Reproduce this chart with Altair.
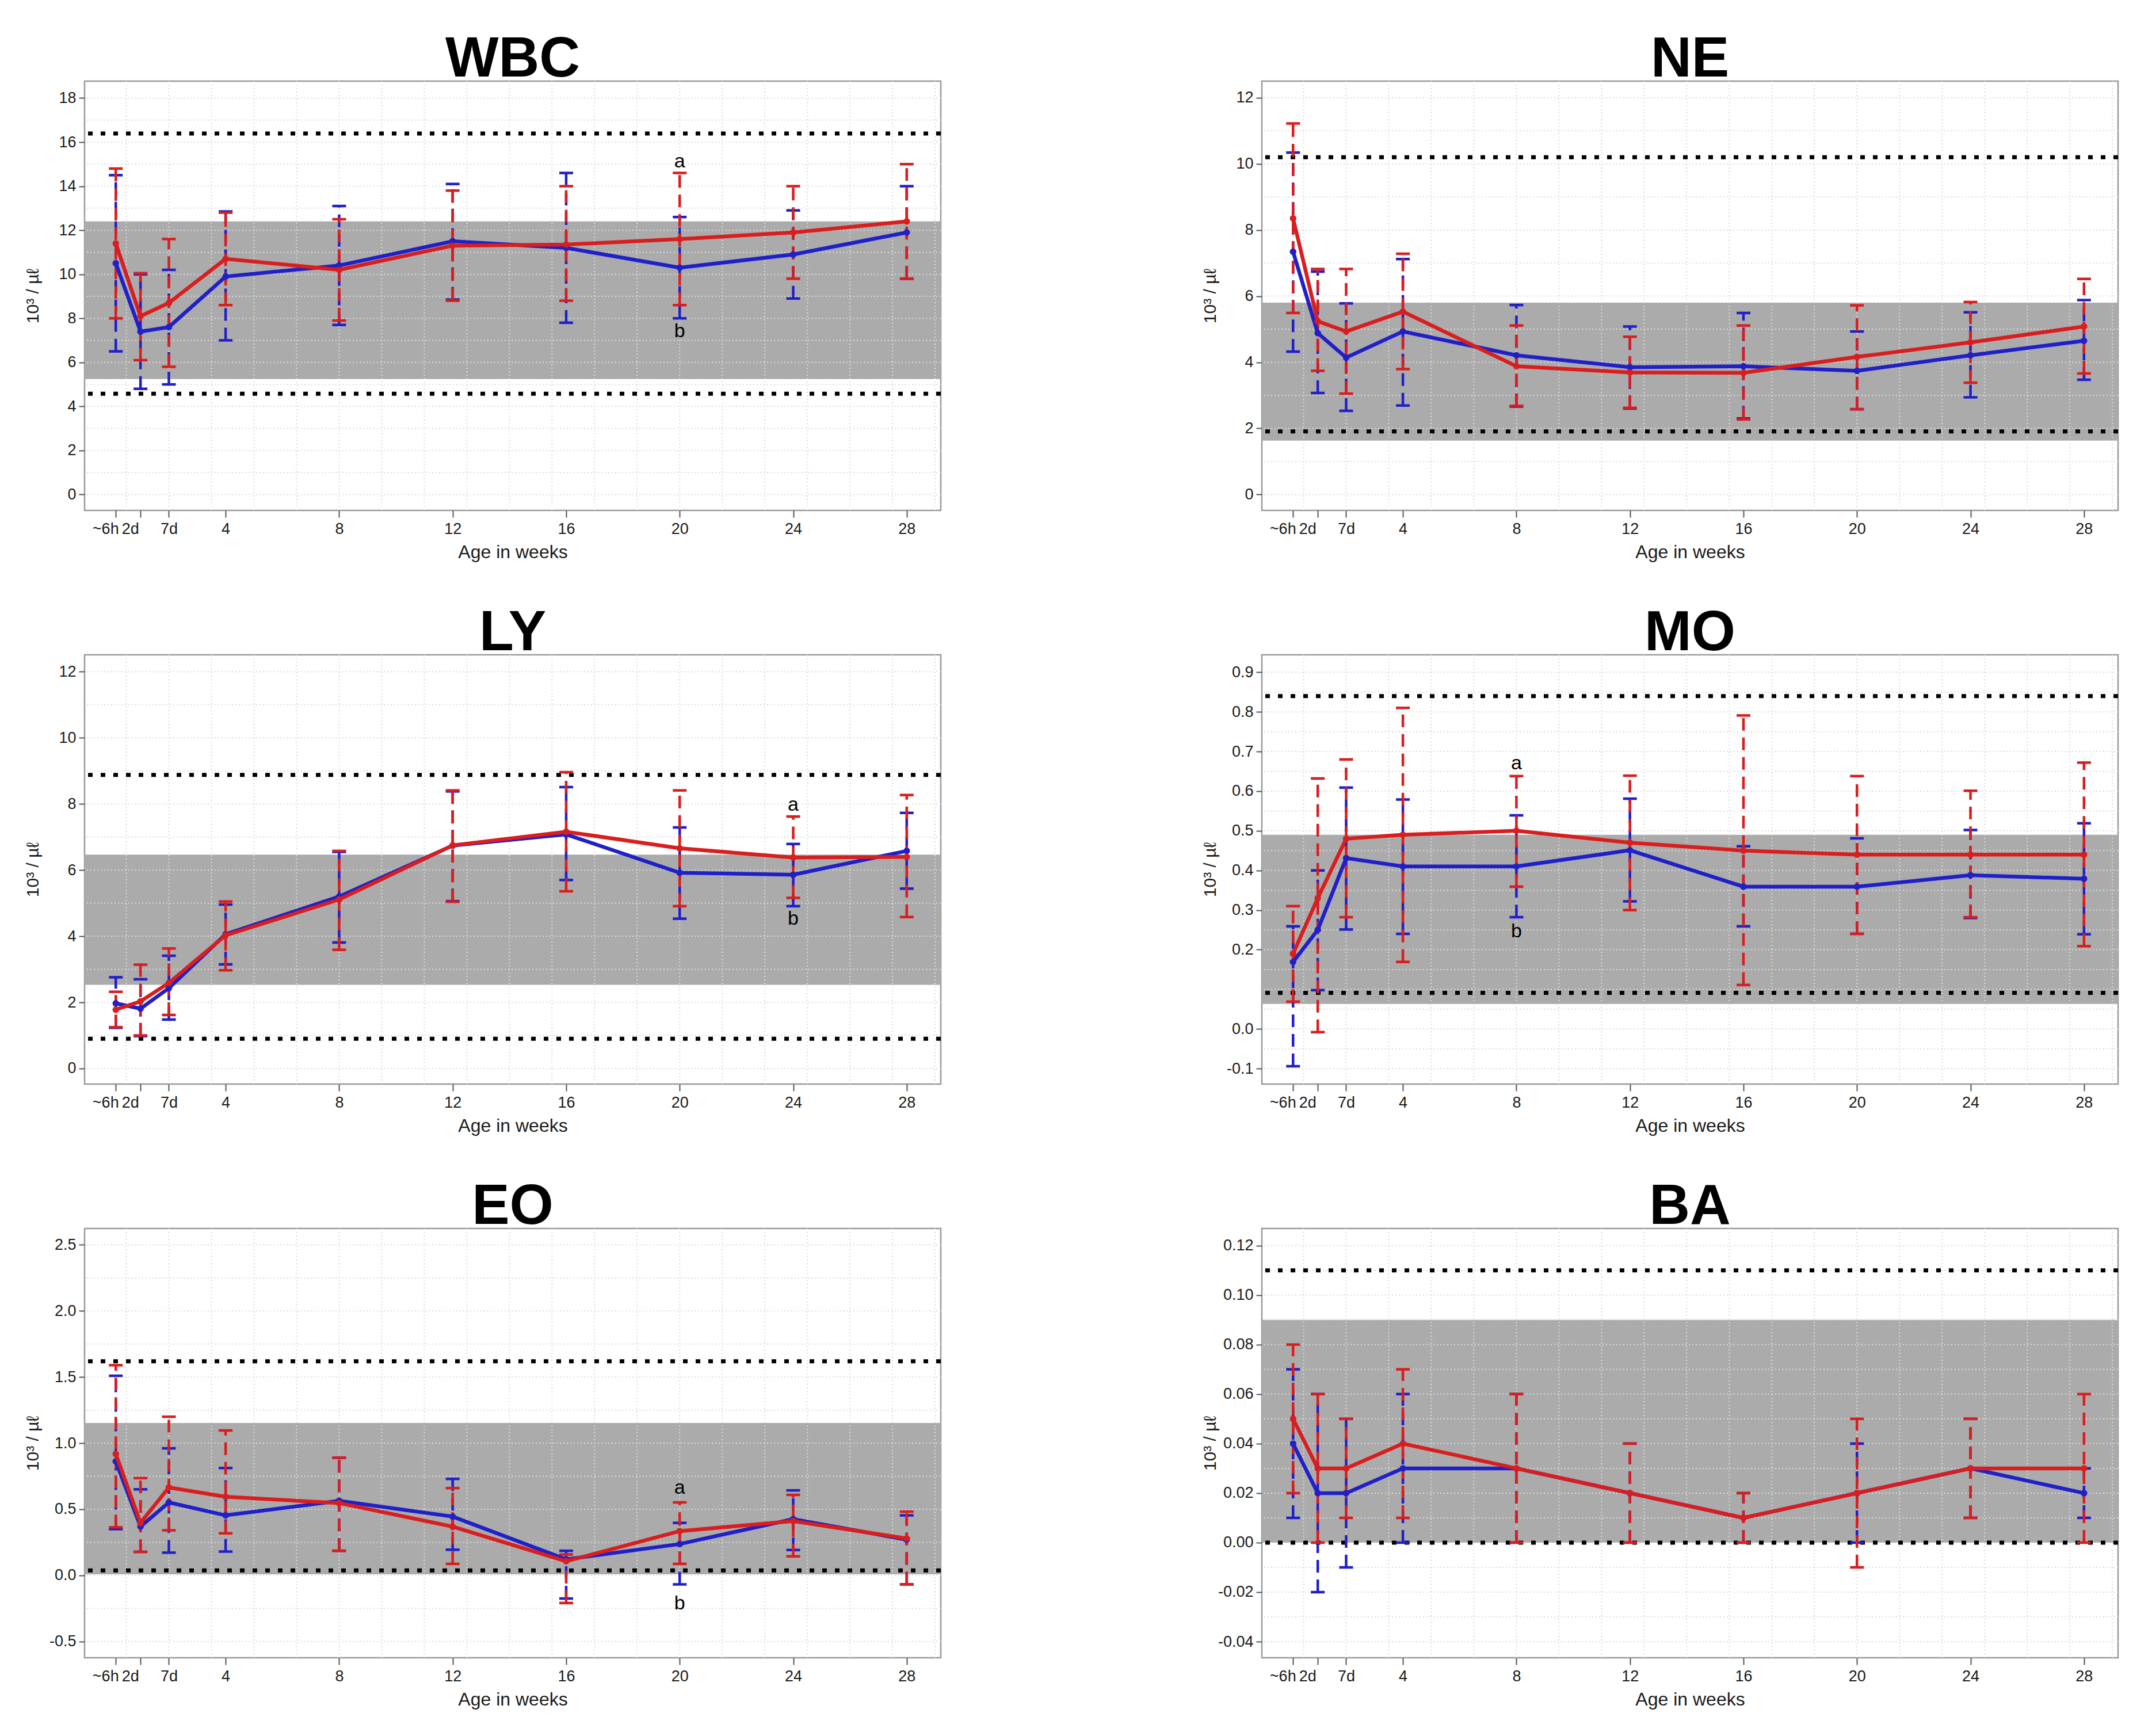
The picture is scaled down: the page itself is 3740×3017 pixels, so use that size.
import altair as alt
import pandas as pd
import numpy as np

# ---------------- data ----------------
WEEKS = [0.13, 1, 2, 4, 8, 12, 16, 20, 24, 28]
WEEK_LABELS = ["~6h", "2d", "7d", "4", "8", "12", "16", "20", "24", "28"]

# WBC
WBC_RED = [11.4, 8.1, 8.7, 10.7, 10.2, 11.3, 11.35, 11.6, 11.9, 12.4]
WBC_RED_LO = [8.0, 6.1, 5.8, 8.6, 7.9, 8.8, 8.8, 8.6, 9.8, 9.8]
WBC_RED_HI = [14.8, 10.05, 11.6, 12.8, 12.5, 13.8, 14.0, 14.6, 14.0, 15.0]
WBC_BLUE = [10.5, 7.4, 7.6, 9.9, 10.4, 11.5, 11.2, 10.3, 10.9, 11.9]
WBC_BLUE_LO = [6.5, 4.8, 5.0, 7.0, 7.7, 8.85, 7.8, 8.0, 8.9, 9.8]
WBC_BLUE_HI = [14.5, 10.0, 10.2, 12.85, 13.1, 14.1, 14.6, 12.6, 12.9, 14.0]
WBC_BAND = [5.24, 12.4]
WBC_REF = [4.58, 16.39]

# NE
NE_RED = [8.35, 5.24, 4.93, 5.53, 3.88, 3.69, 3.68, 4.16, 4.6, 5.08]
NE_RED_LO = [5.49, 3.74, 3.05, 3.79, 2.68, 2.62, 2.27, 2.58, 3.38, 3.66]
NE_RED_HI = [11.22, 6.82, 6.82, 7.28, 5.11, 4.77, 5.11, 5.72, 5.82, 6.52]
NE_BLUE = [7.34, 4.88, 4.14, 4.93, 4.21, 3.85, 3.88, 3.74, 4.21, 4.65]
NE_BLUE_LO = [4.32, 3.07, 2.53, 2.69, 2.66, 2.6, 2.3, 2.58, 2.94, 3.47]
NE_BLUE_HI = [10.34, 6.74, 5.78, 7.12, 5.73, 5.08, 5.49, 4.93, 5.51, 5.88]
NE_BAND = [1.63, 5.8]
NE_REF = [1.91, 10.2]

# LY
LY_RED = [1.78, 2.03, 2.59, 4.03, 5.11, 6.75, 7.16, 6.66, 6.38, 6.4]
LY_RED_LO = [1.25, 1.0, 1.62, 2.97, 3.59, 5.04, 5.36, 4.91, 5.16, 4.58]
LY_RED_HI = [2.32, 3.14, 3.63, 5.05, 6.58, 8.41, 8.96, 8.41, 7.62, 8.27]
LY_BLUE = [1.97, 1.81, 2.43, 4.06, 5.2, 6.74, 7.08, 5.92, 5.86, 6.58]
LY_BLUE_LO = [1.23, 0.98, 1.48, 3.15, 3.81, 5.06, 5.7, 4.53, 4.91, 5.44]
LY_BLUE_HI = [2.76, 2.7, 3.41, 4.96, 6.55, 8.38, 8.51, 7.29, 6.79, 7.73]
LY_BAND = [2.53, 6.47]
LY_REF = [0.9, 8.88]

# MO
MO_RED = [0.19, 0.33, 0.48, 0.49, 0.50, 0.47, 0.45, 0.44, 0.44, 0.44]
MO_RED_LO = [0.069, -0.008, 0.282, 0.169, 0.359, 0.30, 0.111, 0.24, 0.282, 0.209]
MO_RED_HI = [0.31, 0.632, 0.68, 0.81, 0.638, 0.639, 0.791, 0.638, 0.601, 0.672]
MO_BLUE = [0.169, 0.25, 0.431, 0.41, 0.41, 0.451, 0.359, 0.359, 0.388, 0.379]
MO_BLUE_LO = [-0.094, 0.098, 0.251, 0.24, 0.282, 0.322, 0.259, 0.24, 0.28, 0.239]
MO_BLUE_HI = [0.259, 0.40, 0.609, 0.579, 0.539, 0.581, 0.461, 0.481, 0.502, 0.519]
MO_BAND = [0.063, 0.49]
MO_REF = [0.091, 0.84]

# EO
EO_RED = [0.919, 0.397, 0.665, 0.595, 0.547, 0.369, 0.107, 0.335, 0.411, 0.279]
EO_RED_LO = [0.364, 0.178, 0.341, 0.318, 0.186, 0.087, -0.209, 0.087, 0.144, -0.068]
EO_RED_HI = [1.59, 0.736, 1.2, 1.096, 0.89, 0.66, 0.158, 0.552, 0.609, 0.482]
EO_BLUE = [0.862, 0.369, 0.552, 0.454, 0.564, 0.445, 0.121, 0.237, 0.426, 0.27]
EO_BLUE_LO = [0.35, 0.178, 0.172, 0.18, 0.186, 0.194, -0.175, -0.068, 0.192, -0.068]
EO_BLUE_HI = [1.51, 0.651, 0.961, 0.812, 0.89, 0.73, 0.186, 0.397, 0.643, 0.454]
EO_BAND = [0.008, 1.153]
EO_REF = [0.037, 1.62]

# BA
BA_RED = [0.05, 0.03, 0.03, 0.04, 0.03, 0.02, 0.01, 0.02, 0.03, 0.03]
BA_RED_LO = [0.02, 0.0, 0.01, 0.01, 0.0, 0.0, 0.0, -0.01, 0.01, 0.0]
BA_RED_HI = [0.08, 0.06, 0.05, 0.07, 0.06, 0.04, 0.02, 0.05, 0.05, 0.06]
BA_BLUE = [0.04, 0.02, 0.02, 0.03, 0.03, 0.02, 0.01, 0.02, 0.03, 0.02]
BA_BLUE_LO = [0.01, -0.02, -0.01, 0.0, 0.0, 0.0, 0.0, 0.0, 0.01, 0.01]
BA_BLUE_HI = [0.07, 0.06, 0.05, 0.06, 0.06, 0.04, 0.02, 0.04, 0.05, 0.03]
BA_BAND = [0.0, 0.09]
BA_REF = [0.0, 0.11]

# axis settings per panel
Y_DOMAINS = {
    "WBC": [-0.72, 18.77], "NE": [-0.48, 12.5], "LY": [-0.47, 12.51],
    "MO": [-0.139, 0.944], "EO": [-0.623, 2.624], "BA": [-0.0465, 0.1269],
}
Y_TICKS = {
    "WBC": [0, 2, 4, 6, 8, 10, 12, 14, 16, 18],
    "NE": [0, 2, 4, 6, 8, 10, 12],
    "LY": [0, 2, 4, 6, 8, 10, 12],
    "MO": [-0.1, 0.0, 0.2, 0.3, 0.4, 0.5, 0.6, 0.7, 0.8, 0.9],
    "EO": [-0.5, 0.0, 0.5, 1.0, 1.5, 2.0, 2.5],
    "BA": [-0.04, -0.02, 0.0, 0.02, 0.04, 0.06, 0.08, 0.10, 0.12],
}
Y_STEP = {"WBC": 2, "NE": 2, "LY": 2, "MO": 0.1, "EO": 0.5, "BA": 0.02}
Y_FMT = {"WBC": "d", "NE": "d", "LY": "d", "MO": ".1f", "EO": ".1f", "BA": ".2f"}

# significance letters: (week, y, letter)
NOTES = {
    "WBC": [(20, 15.1, "a"), (20, 7.4, "b")],
    "LY": [(24, 7.97, "a"), (24, 4.53, "b")],
    "MO": [(8, 0.669, "a"), (8, 0.246, "b")],
    "EO": [(20, 0.66, "a"), (20, -0.214, "b")],
}

# ---------------- style ----------------
PLOT_W, PLOT_H = 1488, 746
X_DOMAIN = [-0.97, 29.2]
RED, BLUE = "#D81E1E", "#2020C8"
BAND_COLOR = "#ABABAB"
GRID_COLOR = "#DCDCDC"
FONT = "Liberation Sans"
Y_TITLE = "10\u00b3 / \u00b5\u2113"

GRID_X = [0.5 + 1.5 * k for k in range(20)]

x_label_expr = " : ".join(
    f"datum.value == {w} ? '{l}'" for w, l in zip(WEEKS, WEEK_LABELS)
) + " : datum.label"

x_axis = alt.Axis(
    values=WEEKS, labelExpr=x_label_expr, labelOverlap=False, labelFlush=False,
    labelFontSize=27, titleFontSize=32, tickSize=12, labelPadding=7,
    titlePadding=12, titleFontWeight="normal",
    labelOffset={"condition": {"test": "datum.value < 1.5", "value": -18}, "value": 0},
)


def y_axis(name):
    fmt = Y_FMT[name]
    return alt.Axis(
        values=Y_TICKS[name],
        labelExpr=f"replace(format(datum.value, '{fmt}'), '\u2212', '-')",
        labelFontSize=27, tickSize=10, labelPadding=5,
        titleFontSize=30, titleFontWeight="normal",
        titleX=-90, titleY=PLOT_H / 2, titleAngle=270,
        titleAlign="center", titleBaseline="middle",
    )


def make_panel(name, red, red_lo, red_hi, blue, blue_lo, blue_hi, band, refs):
    xs = alt.Scale(domain=X_DOMAIN, nice=False, zero=False)
    ys = alt.Scale(domain=Y_DOMAINS[name], nice=False, zero=False)
    ya = y_axis(name)

    def X(f):
        return alt.X(f, type="quantitative", scale=xs, axis=x_axis, title="Age in weeks")

    def Y(f):
        return alt.Y(f, type="quantitative", scale=ys, axis=ya, title=Y_TITLE)

    df_red = pd.DataFrame({"week": WEEKS, "mean": red, "lo": red_lo, "hi": red_hi})
    df_blue = pd.DataFrame({"week": WEEKS, "mean": blue, "lo": blue_lo, "hi": blue_hi})
    df_band = pd.DataFrame({"lo": [band[0]], "hi": [band[1]]})
    df_ref = pd.DataFrame({"v": refs})
    df_gx = pd.DataFrame({"g": GRID_X})
    lo_d, hi_d = Y_DOMAINS[name]
    half = Y_STEP[name] / 2
    gy = np.arange(np.ceil(lo_d / half - 1e-9), np.floor(hi_d / half + 1e-9) + 1) * half
    df_gy = pd.DataFrame({"g": gy})
    df_title = pd.DataFrame({"name": [name]})

    layers = []
    layers.append(
        alt.Chart(df_band).mark_rect(color=BAND_COLOR).encode(
            x=alt.value(0), x2=alt.value(PLOT_W), y=Y("lo"), y2=alt.Y2("hi"))
    )
    layers.append(
        alt.Chart(df_gx).mark_rule(color=GRID_COLOR, strokeWidth=2, strokeDash=[2, 4]).encode(x=X("g"))
    )
    layers.append(
        alt.Chart(df_gy).mark_rule(color=GRID_COLOR, strokeWidth=2, strokeDash=[2, 4]).encode(y=Y("g"))
    )
    layers.append(
        alt.Chart(df_ref).mark_rule(color="black", strokeWidth=7, strokeDash=[8, 14]).encode(y=Y("v"))
    )
    for df, col in ((df_blue, BLUE), (df_red, RED)):
        layers.append(
            alt.Chart(df).mark_rule(color=col, strokeWidth=4.5, strokeDash=[22, 12]).encode(
                x=X("week"), y=Y("lo"), y2=alt.Y2("hi"))
        )
        for f in ("lo", "hi"):
            layers.append(
                alt.Chart(df).mark_tick(color=col, orient="horizontal", size=24,
                                        thickness=4.5, opacity=1).encode(x=X("week"), y=Y(f))
            )
    for df, col in ((df_blue, BLUE), (df_red, RED)):
        layers.append(
            alt.Chart(df).mark_line(color=col, strokeWidth=6.5).encode(x=X("week"), y=Y("mean"))
        )
        layers.append(
            alt.Chart(df).mark_circle(color=col, size=130, opacity=1).encode(x=X("week"), y=Y("mean"))
        )
    if name in NOTES:
        nd = pd.DataFrame(NOTES[name], columns=["week", "y", "txt"])
        layers.append(
            alt.Chart(nd).mark_text(font=FONT, fontSize=34, color="black",
                                    align="center", baseline="middle").encode(
                x=X("week"), y=Y("y"), text="txt:N")
        )
    # panel title drawn as text just above the plot area
    layers.append(
        alt.Chart(df_title).mark_text(font=FONT, fontSize=98, fontWeight="bold", color="black",
                                      align="center", baseline="alphabetic").encode(
            x=alt.value(PLOT_W / 2), y=alt.value(-8), text="name:N")
    )
    return alt.layer(*layers).properties(width=PLOT_W, height=PLOT_H)


panels = [
    make_panel("WBC", WBC_RED, WBC_RED_LO, WBC_RED_HI, WBC_BLUE, WBC_BLUE_LO, WBC_BLUE_HI, WBC_BAND, WBC_REF),
    make_panel("NE", NE_RED, NE_RED_LO, NE_RED_HI, NE_BLUE, NE_BLUE_LO, NE_BLUE_HI, NE_BAND, NE_REF),
    make_panel("LY", LY_RED, LY_RED_LO, LY_RED_HI, LY_BLUE, LY_BLUE_LO, LY_BLUE_HI, LY_BAND, LY_REF),
    make_panel("MO", MO_RED, MO_RED_LO, MO_RED_HI, MO_BLUE, MO_BLUE_LO, MO_BLUE_HI, MO_BAND, MO_REF),
    make_panel("EO", EO_RED, EO_RED_LO, EO_RED_HI, EO_BLUE, EO_BLUE_LO, EO_BLUE_HI, EO_BAND, EO_REF),
    make_panel("BA", BA_RED, BA_RED_LO, BA_RED_HI, BA_BLUE, BA_BLUE_LO, BA_BLUE_HI, BA_BAND, BA_REF),
]

chart = alt.concat(*panels, columns=2, spacing={"row": 73, "column": 446}).properties(
    padding={"left": 32, "top": 45, "right": 5, "bottom": 5},
    background="white",
).configure_view(
    stroke="#9A9A9A", strokeWidth=2.5
).configure_axis(
    domain=False, grid=False, labelFont=FONT, titleFont=FONT,
    labelColor="#1A1A1A", titleColor="#1A1A1A", tickColor="#555555", tickWidth=2,
)

chart.save("out.html", embed_options={"renderer": "svg", "actions": False})
